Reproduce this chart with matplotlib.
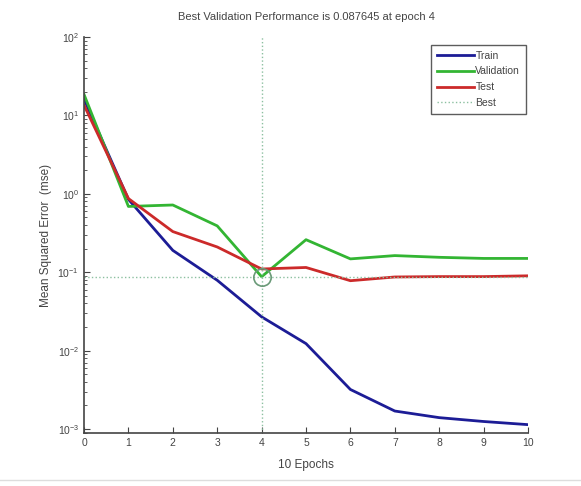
import numpy as np
import matplotlib
matplotlib.use("Agg")
import matplotlib.pyplot as plt
from matplotlib.lines import Line2D

# values (mse per epoch)
epochs = [0, 1, 2, 3, 4, 5, 6, 7, 8, 9, 10]
train = [16.0, 0.85, 0.19, 0.079, 0.027, 0.0123, 0.0032, 0.0017, 0.0014, 0.00125, 0.00114]
validation = [18.5, 0.69, 0.72, 0.39, 0.087645, 0.26, 0.148, 0.163, 0.155, 0.150, 0.150]
test = [13.5, 0.87, 0.33, 0.21, 0.11, 0.115, 0.078, 0.087, 0.088, 0.088, 0.090]
best_epoch = 4
best_perf = 0.087645

plt.rcParams['font.family'] = ['Liberation Sans', 'DejaVu Sans']
grey = '#444444'

fig = plt.figure(figsize=(5.81, 4.86), dpi=100)
ax = fig.add_axes([0.1446, 0.109, 0.7642, 0.815])

ax.plot(epochs, train, color='#1c1c96', lw=2, label='Train')
ax.plot(epochs, validation, color='#33b533', lw=2, label='Validation')
ax.plot(epochs, test, color='#cc2a2a', lw=2, label='Test')
ax.axvline(best_epoch, color='#8cc0a0', lw=1, ls=':', label='Best')
ax.axhline(best_perf, color='#8cc0a0', lw=1, ls=':')
ax.plot([best_epoch], [best_perf], 'o', mfc='none', mec='#6a9a78', ms=12.5, mew=1.2)

ax.set_yscale('log')
ax.set_xlim(0, 10)
ax.set_ylim(10 ** -3.05, 1e2)
ax.set_xticks(range(0, 11))

for s in ['top', 'right']:
    ax.spines[s].set_visible(False)
for s in ['left', 'bottom']:
    ax.spines[s].set_color(grey)
    ax.spines[s].set_linewidth(1.2)

ax.tick_params(which='both', direction='in', colors=grey, labelsize=7.5, labelcolor=grey)
ax.tick_params(which='major', length=4)
ax.tick_params(which='minor', length=2)

ax.set_title('Best Validation Performance is 0.087645 at epoch 4', fontsize=8, color=grey, pad=12)
ax.set_xlabel('10 Epochs', fontsize=8.5, color=grey, labelpad=8)
ax.set_ylabel('Mean Squared Error  (mse)', fontsize=8.5, color=grey, labelpad=4)

leg = ax.legend(loc='upper right', bbox_to_anchor=(1.0, 0.985), fontsize=7.5, frameon=True,
                fancybox=False, handlelength=3.6, handletextpad=0.1, labelspacing=0.55,
                borderpad=0.55, borderaxespad=0.2)
leg.get_frame().set_edgecolor('#333333')
leg.get_frame().set_linewidth(1.0)
for t in leg.get_texts():
    t.set_color(grey)

# faint separator line near the bottom of the image
fig.add_artist(Line2D([0, 1], [0.012, 0.012], color='#dddddd', lw=1, transform=fig.transFigure))

fig.savefig('out.png', dpi=100)
